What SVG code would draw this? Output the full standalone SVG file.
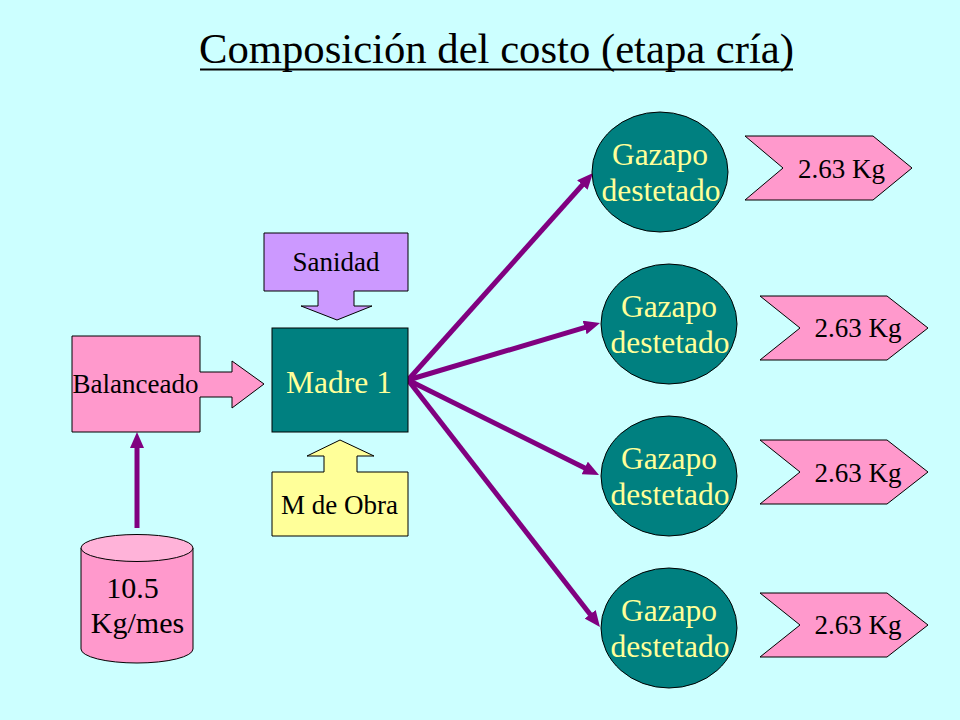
<svg xmlns="http://www.w3.org/2000/svg" width="960" height="720" viewBox="0 0 960 720">
<style>
.shape{stroke:#000;stroke-width:1}
.pink{fill:#FF99CC}
.teal{fill:#008080}
text{font-family:'Liberation Serif','Times New Roman','DejaVu Serif',serif}
.lbl{font-size:27px;fill:#000}
.big{font-size:31.5px;fill:#FFFF99}
.conn{stroke:#800080;stroke-width:5;fill:none;marker-end:url(#ah)}
.kg{font-size:27px;fill:#000;text-anchor:middle}
</style>
<defs>
<marker id="ah" markerUnits="userSpaceOnUse" markerWidth="16" markerHeight="14" refX="4" refY="7" orient="auto">
<path d="M0,0 L16,7 L0,14 z" fill="#800080"/>
</marker>
</defs>
<rect width="960" height="720" fill="#CCFFFF"/>
<g id="title">
<text x="496.5" y="63" font-size="42.7" text-anchor="middle" fill="#000">Composición del costo (etapa cría)</text>
<line x1="200" y1="69.5" x2="793" y2="69.5" stroke="#000" stroke-width="2"/>
</g>
<g id="connectors">
<path class="conn" d="M408,380 L585,182"/>
<path class="conn" d="M408,380 L588.5,326.4"/>
<path class="conn" d="M408,380 L588.3,469.7"/>
<path class="conn" d="M408,380 L592.6,617.5"/>
<path class="conn" d="M137,528 L137,444"/>
</g>
<g id="sanidad">
<path class="shape" fill="#CC99FF" d="M264,233 L408,233 L408,291 L354,291 L354,306 L372,306 L337,320 L301,306 L318,306 L318,291 L264,291 z"/>
<text x="336" y="271" class="lbl" text-anchor="middle">Sanidad</text>
</g>
<g id="madre">
<rect class="shape teal" x="272" y="328" width="136" height="104"/>
<text x="339" y="393" class="big" text-anchor="middle">Madre 1</text>
</g>
<g id="balanceado">
<path class="shape pink" d="M72,336 L200,336 L200,372 L232,372 L232,361 L264,384 L232,408 L232,397 L200,397 L200,432 L72,432 z"/>
<text x="135.5" y="393" class="lbl" text-anchor="middle">Balanceado</text>
</g>
<g id="mobra">
<path class="shape" fill="#FFFF99" d="M272,472 L324,472 L324,456 L307,456 L340,440 L374,456 L357,456 L357,472 L408,472 L408,536 L272,536 z"/>
<text x="339.5" y="514" class="lbl" text-anchor="middle">M de Obra</text>
</g>
<g id="cilindro">
<path class="shape pink" d="M81,548 L81,649 A56,14 0 0 0 193,649 L193,548"/>
<ellipse class="shape" fill="#FFB3D9" cx="137" cy="548" rx="56" ry="13.5"/>
<text x="132.5" y="598" font-size="30" text-anchor="middle">10.5</text>
<text x="137.5" y="633" font-size="30" text-anchor="middle">Kg/mes</text>
</g>
<g id="gazapo1">
<ellipse class="shape teal" cx="660" cy="172" rx="68" ry="60"/>
<text x="660" y="165" class="big" text-anchor="middle">Gazapo</text>
<text x="661" y="201" class="big" text-anchor="middle">destetado</text>
</g>
<g id="gazapo2">
<ellipse class="shape teal" cx="669" cy="324" rx="68" ry="60"/>
<text x="669" y="317" class="big" text-anchor="middle">Gazapo</text>
<text x="670" y="353" class="big" text-anchor="middle">destetado</text>
</g>
<g id="gazapo3">
<ellipse class="shape teal" cx="669" cy="476" rx="68" ry="60"/>
<text x="669" y="469" class="big" text-anchor="middle">Gazapo</text>
<text x="670" y="505" class="big" text-anchor="middle">destetado</text>
</g>
<g id="gazapo4">
<ellipse class="shape teal" cx="669" cy="628" rx="68" ry="60"/>
<text x="669" y="621" class="big" text-anchor="middle">Gazapo</text>
<text x="670" y="657" class="big" text-anchor="middle">destetado</text>
</g>
<g id="kg1">
<path class="shape pink" d="M745,136 L873,136 L912,168 L873,200 L745,200 L783,168 z"/>
<text x="841.5" y="178" class="kg">2.63 Kg</text>
</g>
<g id="kg2">
<path class="shape pink" d="M760,296 L887,296 L928,328 L887,360 L760,360 L800,328 z"/>
<text x="858" y="337" class="kg">2.63 Kg</text>
</g>
<g id="kg3">
<path class="shape pink" d="M760,440 L887,440 L928,472 L887,504 L760,504 L800,472 z"/>
<text x="858" y="482" class="kg">2.63 Kg</text>
</g>
<g id="kg4">
<path class="shape pink" d="M760,593 L887,593 L928,625 L887,657 L760,657 L800,625 z"/>
<text x="858" y="634" class="kg">2.63 Kg</text>
</g>
</svg>
